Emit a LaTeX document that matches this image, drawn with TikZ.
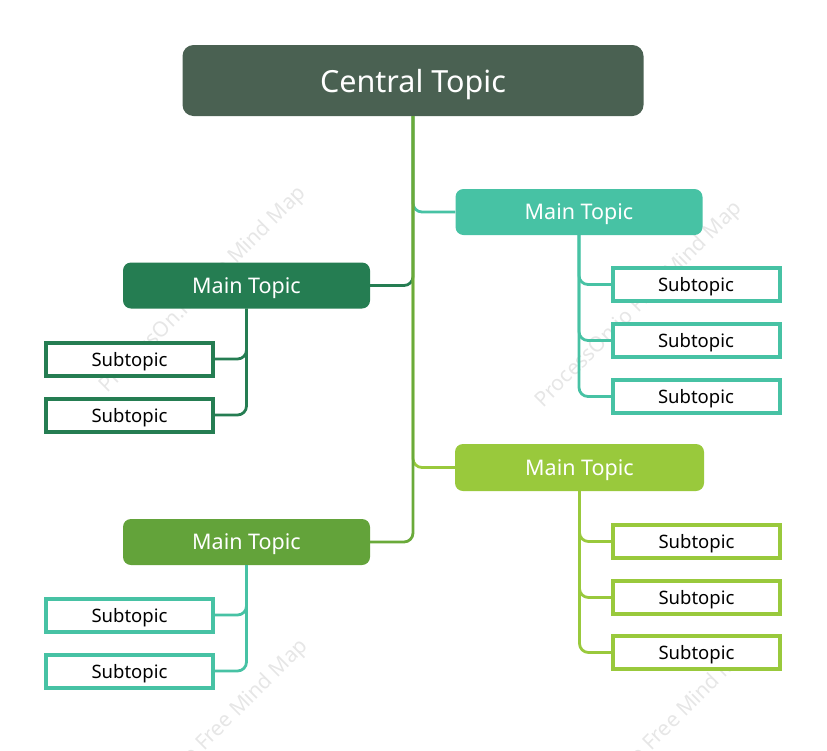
\documentclass[tikz,border=0pt]{standalone}
\usepackage{fontspec}
\setmainfont{Noto Sans}
\definecolor{centralc}{HTML}{4A6152}
\definecolor{tealc}{HTML}{47C2A4}
\definecolor{darkg}{HTML}{257D52}
\definecolor{lightg}{HTML}{99C93C}
\definecolor{midg}{HTML}{63A33A}
\definecolor{trunkc}{HTML}{6AAA3A}
\definecolor{wmark}{HTML}{E6E6E6}
\begin{document}
\begin{tikzpicture}[x=1pt,y=-1pt,
  centralbox/.style={fill=centralc, text=white, rounded corners=11pt, minimum width=461pt, minimum height=71pt, inner sep=0pt, text depth=0pt, font=\fontsize{30.5}{36}\selectfont},
  mainbox/.style={fill=#1, text=white, rounded corners=8pt, minimum width=247pt, minimum height=46pt, inner sep=0pt, text depth=0pt, font=\fontsize{21.5}{26}\selectfont},
  subbox/.style={draw=#1, fill=white, line width=4pt, minimum width=167pt, minimum height=33pt, inner sep=0pt, outer sep=0pt, text depth=0pt, font=\fontsize{18.5}{22}\selectfont},
  conn/.style={draw=#1, line width=2.8pt, rounded corners=9pt},
  wm/.style={text=wmark, rotate=45, font=\fontsize{21}{26}\selectfont}
]
\useasboundingbox (0,0) rectangle (827,750);
% watermarks
\node[wm] (w1) at (203,290) {ProcessOn.io Free Mind Map};
\node[wm] (w2) at (639,305) {ProcessOn.io Free Mind Map};
\node[wm] (w3) at (205,743) {ProcessOn.io Free Mind Map};
\node[wm] (w4) at (652,743) {ProcessOn.io Free Mind Map};

% nodes
\node[centralbox] (C) at (413,80.5) {Central Topic};
\node[mainbox=tealc] (M1) at (579,212) {Main Topic};
\node[mainbox=darkg] (M2) at (246.5,285.5) {Main Topic};
\node[mainbox=lightg, minimum width=249pt, minimum height=47pt] (M3) at (579.5,467.5) {Main Topic};
\node[mainbox=midg] (M4) at (246.5,542) {Main Topic};

\node[subbox=tealc] (S11) at (696,284.5) {Subtopic};
\node[subbox=tealc] (S12) at (696,340.5) {Subtopic};
\node[subbox=tealc] (S13) at (696,396.5) {Subtopic};
\node[subbox=darkg] (S21) at (129.5,359) {Subtopic};
\node[subbox=darkg] (S22) at (129.5,415) {Subtopic};
\node[subbox=lightg] (S31) at (696.5,541.5) {Subtopic};
\node[subbox=lightg] (S32) at (696.5,597.5) {Subtopic};
\node[subbox=lightg] (S33) at (696.5,652.5) {Subtopic};
\node[subbox=tealc] (S41) at (129.5,615) {Subtopic};
\node[subbox=tealc] (S42) at (129.5,671) {Subtopic};

% connectors: main branches
\draw[conn=tealc] (C.south) |- (M1.west);
\draw[conn=darkg] (C.south) |- (M2.east);
\draw[conn=lightg] (C.south) |- (M3.west);
\draw[conn=trunkc] (C.south) |- (M4.east);

% sub branches
\draw[conn=tealc] (M1.south) |- (S11.west);
\draw[conn=tealc] (M1.south) |- (S12.west);
\draw[conn=tealc] (M1.south) |- (S13.west);
\draw[conn=darkg] (M2.south) |- (S21.east);
\draw[conn=darkg] (M2.south) |- (S22.east);
\draw[conn=lightg] (M3.south) |- (S31.west);
\draw[conn=lightg] (M3.south) |- (S32.west);
\draw[conn=lightg] (M3.south) |- (S33.west);
\draw[conn=tealc] (M4.south) |- (S41.east);
\draw[conn=tealc] (M4.south) |- (S42.east);
\end{tikzpicture}
\end{document}
